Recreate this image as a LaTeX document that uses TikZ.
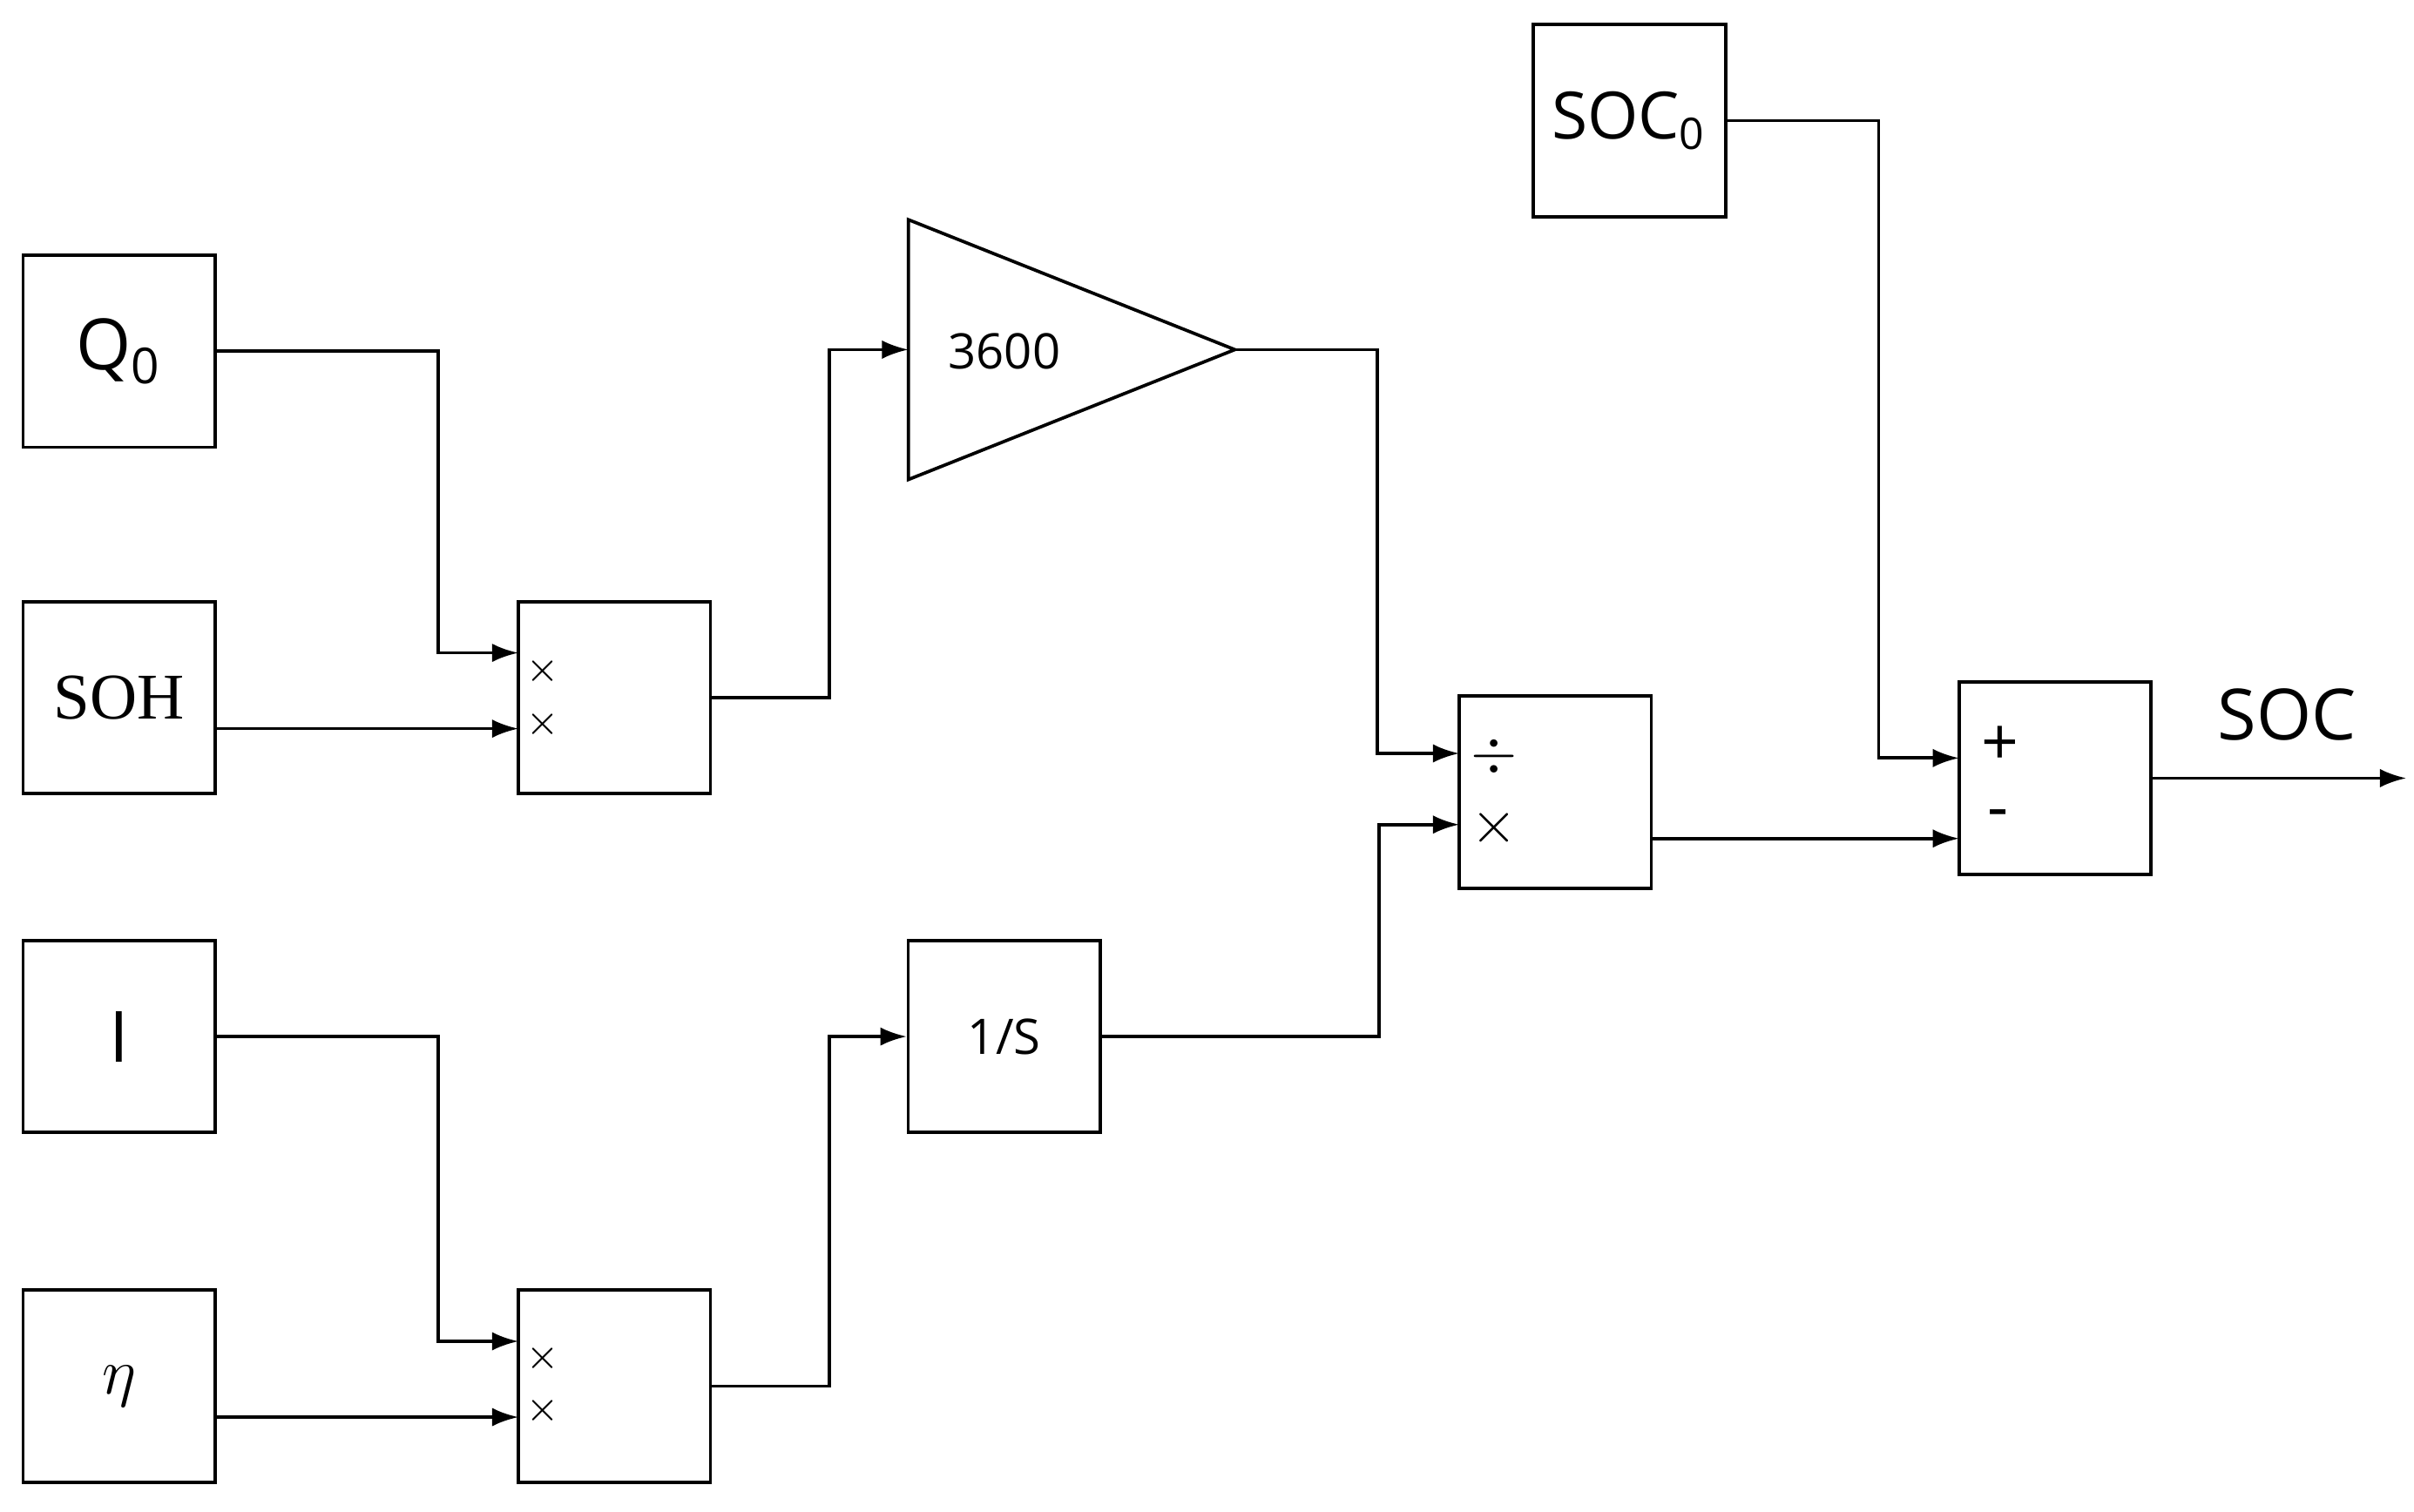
\documentclass[tikz,border=0pt]{standalone}
\usepackage{fontspec}
\setmainfont{Open Sans}
\newfontfamily\serifz{Liberation Serif}
\usetikzlibrary{arrows.meta,positioning,calc}

\begin{document}
\begin{tikzpicture}[x=0.01cm,y=-0.01cm,line width=0.6pt,
		blk/.style={draw, minimum size=1.24cm, inner sep=0pt, anchor=center},
		sig/.style={-{Latex[length=1.7mm,width=1.2mm]}},
		port/.style={font=\fontsize{7}{7}\selectfont, anchor=west, inner sep=1pt}]
		\useasboundingbox (0,0) rectangle (1560,977);

		% sources
		\node[blk, font=\fontsize{13}{13}\selectfont] (q0) at (77,227) {Q\textsubscript{0}};
		\node[blk, font=\serifz\fontsize{12}{12}\selectfont] (soh) at (77,451) {SOH};
		\node[blk, font=\fontsize{13}{13}\selectfont] (cur) at (77,670) {I};
		\node[blk, font=\serifz\fontsize{12}{12}\selectfont] (eta) at (77,896) {$\eta$};
		\node[blk, font=\fontsize{12}{12}\selectfont] (soc0) at (1053,78) {SOC\textsubscript{0}};

		% products
		\node[blk] (mulA) at (397,451) {};
		\node[blk] (mulB) at (397,896) {};
		\node[blk, font=\fontsize{9}{9}\selectfont] (integ) at (649,670) {1/S};
		\node[blk] (divd) at (1005,512) {};
		\node[blk] (summ) at (1328,503) {};

		% gain
		\coordinate (gtop) at (587,142);
		\coordinate (gbot) at (587,310);
		\coordinate (gtip) at (798,226);
		\draw (gtop) -- (gtip) -- (gbot) -- cycle;
		\node[font=\fontsize{9}{9}\selectfont] (gain) at (649,227) {3600};

		% input ports
		\coordinate (mulA1) at (335,422);
		\coordinate (mulA2) at (335,471);
		\coordinate (mulB1) at (335,867);
		\coordinate (mulB2) at (335,916);
		\coordinate (gin) at (587,226);
		\coordinate (divd1) at (943,487);
		\coordinate (divd2) at (943,533);
		\coordinate (summ1) at (1266,490);
		\coordinate (summ2) at (1266,542);
		\coordinate (out) at (1555,503);

		\node[port] at (335,434) {$\times$};
		\node[port] at (335,468) {$\times$};
		\node[port] at (335,878) {$\times$};
		\node[port] at (335,912) {$\times$};
		\node[port, font=\fontsize{11}{11}\selectfont] at (946,489) {$\div$};
		\node[port, font=\fontsize{11}{11}\selectfont] at (946,535) {$\times$};
		\node[port, font=\fontsize{12}{12}\selectfont] at (1276,482) {+};
		\node[port, font=\fontsize{12}{12}\selectfont] at (1280,530) {-};
		\node[font=\fontsize{13}{13}\selectfont] (soclab) at (1478,462) {SOC};

		% connectors
		\draw[sig] (q0.east) -- ++(143,0) |- (mulA1);
		\draw[sig] (soh.east |- mulA2) -- (mulA2);
		\draw[sig] (mulA.east) -- ++(76,0) |- (gin);
		\draw[sig] (gtip) -- ++(92,0) |- (divd1);
		\draw[sig] (cur.east) -- ++(143,0) |- (mulB1);
		\draw[sig] (eta.east |- mulB2) -- (mulB2);
		\draw[sig] (mulB.east) -- ++(76,0) |- (integ.west);
		\draw[sig] (integ.east) -- ++(179,0) |- (divd2);
		\draw[sig] (divd.east |- summ2) -- (summ2);
		\draw[sig] (soc0.east) -- ++(98,0) |- (summ1);
		\draw[sig] (summ.east) -- (out);
	\end{tikzpicture}
\end{document}
